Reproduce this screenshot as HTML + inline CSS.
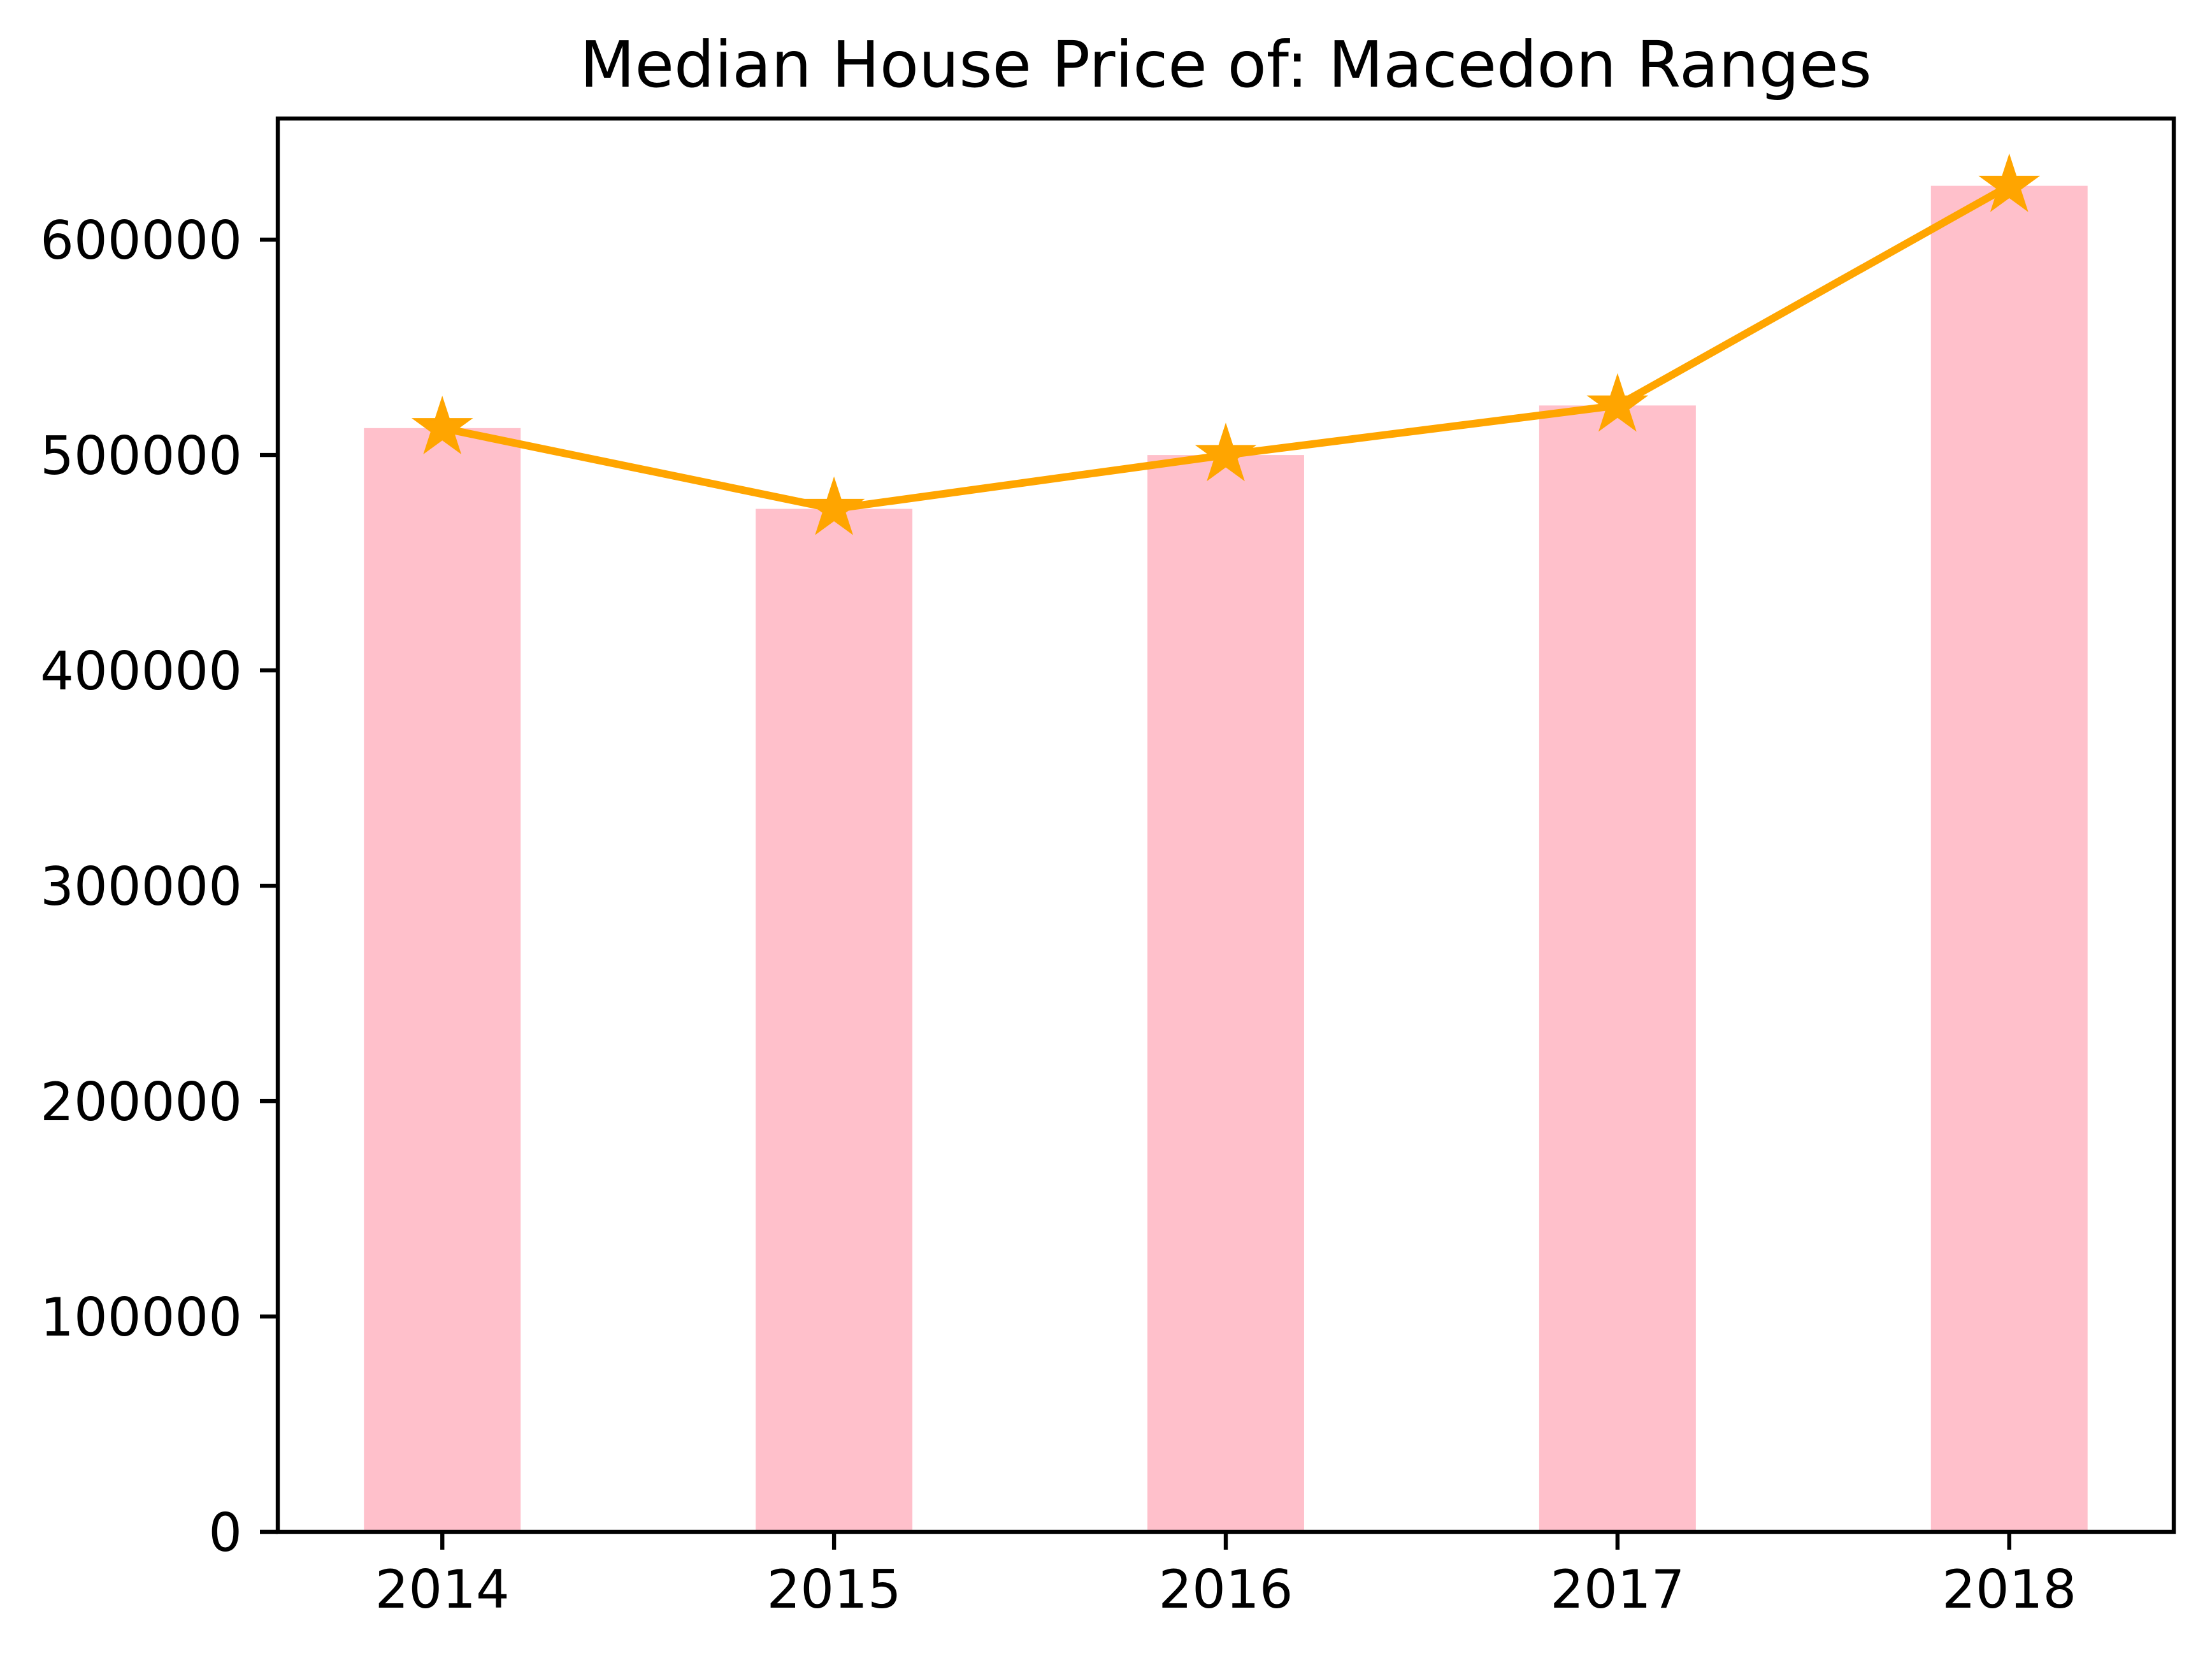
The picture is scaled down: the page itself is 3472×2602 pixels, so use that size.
<!DOCTYPE html>
<html><head><meta charset="utf-8"><style>
html,body{margin:0;padding:0;background:#fff;}
svg{display:block;}
text{font-family:"DejaVu Sans","Liberation Sans",sans-serif;fill:#000;}
</style></head><body>
<svg id="chart" width="3472" height="2602" viewBox="0 0 3472 2602" xmlns="http://www.w3.org/2000/svg">
<rect x="0" y="0" width="3472" height="2602" fill="#fff"/>
<text x="1924" y="136" font-size="100" text-anchor="middle">Median House Price of: Macedon Ranges</text>
<g id="bars"></g>
<g id="line"></g>
<g id="axes"></g>
</svg>
<script>
const years = ["2014","2015","2016","2017","2018"];
const prices = [512500, 475000, 500000, 523000, 625000];
const yTicks = [0,100000,200000,300000,400000,500000,600000];

const L=436,R=3412,T=186,B=2404;
const xmin=-0.42,xmax=4.42,ymin=0,ymax=656250;
const NS="http://www.w3.org/2000/svg";
function sx(v){return L+(v-xmin)/(xmax-xmin)*(R-L);}
function sy(v){return B-(v-ymin)/(ymax-ymin)*(B-T);}
function mk(tag,attrs,parent){const e=document.createElementNS(NS,tag);for(const k in attrs)e.setAttribute(k,attrs[k]);parent.appendChild(e);return e;}

const bars=document.getElementById('bars');
prices.forEach((p,i)=>{
  const x0=sx(i-0.2),x1=sx(i+0.2);
  const r=mk('rect',{x:x0,y:sy(p),width:x1-x0,height:sy(0)-sy(p),fill:'#ffc0cb'},bars);
  
  
});

const line=document.getElementById('line');
const pts=prices.map((p,i)=>sx(i)+','+sy(p)).join(' ');
const pl=mk('polyline',{points:pts,fill:'none',stroke:'#ffa500','stroke-width':12,'stroke-linejoin':'round','stroke-linecap':'square'},line);


prices.forEach((p,i)=>{
  const cx=sx(i),cy=sy(p),ro=46,ri=ro*0.381966;
  let s=[];
  for(let k=0;k<10;k++){const a=-Math.PI/2+k*Math.PI/5;const r=k%2?ri:ro;s.push((cx+r*Math.cos(a)).toFixed(1)+','+(cy+r*Math.sin(a)).toFixed(1));}
  const st=mk('polygon',{points:s.join(' '),fill:'#ffa500',stroke:'#ffa500','stroke-width':3,'stroke-linejoin':'miter'},line);
  
  
});

const axes=document.getElementById('axes');
yTicks.forEach(t=>{
  const y=sy(t);
  const tk=mk('line',{x1:L-28,x2:L,y1:y,y2:y,stroke:'#000','stroke-width':6.4},axes);
  
  
  const tx=mk('text',{x:L-56,y:y+30,'font-size':83,'text-anchor':'end'},axes);
  tx.textContent=String(t);
  
  
});
years.forEach((yr,i)=>{
  const x=sx(i);
  const tk=mk('line',{x1:x,x2:x,y1:B,y2:B+28,stroke:'#000','stroke-width':6.4},axes);
  
  
  const tx=mk('text',{x:x,y:B+56+63,'font-size':83,'text-anchor':'middle'},axes);
  tx.textContent=yr;
  
  
});
const fr=mk('rect',{x:L,y:T,width:R-L,height:B-T,fill:'none',stroke:'#000','stroke-width':6.4,'stroke-linejoin':'miter'},axes);


</script>
</body></html>
